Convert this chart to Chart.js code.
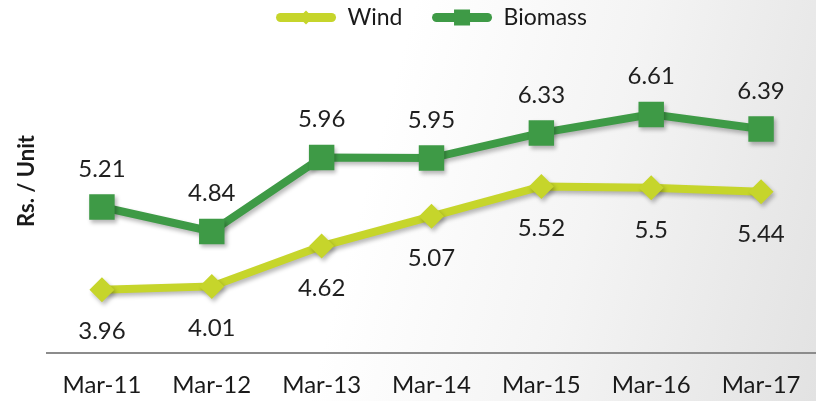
<!DOCTYPE html>
<html>
<head>
<meta charset="utf-8">
<script src="https://cdn.jsdelivr.net/npm/chart.js@4/dist/chart.umd.min.js"></script>
<style>
  html, body { margin: 0; padding: 0; background: #fff; }
  #wrap { width: 816px; height: 401px; position: relative;
          background: linear-gradient(105deg, #ffffff 45%, #f4f4f4 70%, #e2e2e2 100%); }
</style>
</head>
<body>
<div id="wrap"><canvas id="chart"></canvas></div>
<script>
  // values
  const periods = ["Mar-11", "Mar-12", "Mar-13", "Mar-14", "Mar-15", "Mar-16", "Mar-17"];
  const wind = [3.96, 4.01, 4.62, 5.07, 5.52, 5.5, 5.44];
  const biomass = [5.21, 4.84, 5.96, 5.95, 6.33, 6.61, 6.39];
  const yTitle = "Rs. / Unit";

  const windColor = "#c6d52b";
  const bioColor = "#3e9a46";
  const fontFam = "Lato, 'Open Sans', sans-serif";

  // soft drop shadow under lines and markers
  const shadow = {
    id: "shadow",
    beforeDatasetsDraw(chart) {
      const ctx = chart.ctx;
      ctx.save();
      ctx.shadowColor = "rgba(0,0,0,0.28)";
      ctx.shadowBlur = 4;
      ctx.shadowOffsetX = 2;
      ctx.shadowOffsetY = 3;
    },
    afterDatasetsDraw(chart) {
      chart.ctx.restore();
    }
  };

  // numbers above (biomass) / below (wind) each point
  const valueLabels = {
    id: "valueLabels",
    afterDatasetsDraw(chart) {
      const ctx = chart.ctx;
      ctx.save();
      ctx.font = "24px " + fontFam;
      ctx.fillStyle = "#1f1f1f";
      ctx.textAlign = "center";
      ctx.textBaseline = "middle";
      chart.data.datasets.forEach((ds, i) => {
        const meta = chart.getDatasetMeta(i);
        const off = ds.label === "Wind" ? 42 : -38;
        meta.data.forEach((pt, j) => {
          ctx.fillText(String(ds.data[j]), pt.x, pt.y + off);
        });
      });
      ctx.restore();
    }
  };

  // rotated y title, placed a bit above the plot's middle like the original
  const sideTitle = {
    id: "sideTitle",
    afterDraw(chart) {
      const ctx = chart.ctx;
      ctx.save();
      ctx.translate(27, 181);
      ctx.rotate(-Math.PI / 2);
      ctx.font = "bold 22px " + fontFam;
      ctx.fillStyle = "#1a1a1a";
      ctx.textAlign = "center";
      ctx.textBaseline = "middle";
      ctx.fillText(yTitle, 0, 0);
      ctx.restore();
    }
  };

  // put a marker in the middle of each legend line
  const legendMarkers = {
    id: "legendMarkers",
    afterDraw(chart) {
      const lg = chart.legend;
      if (!lg || !lg.legendHitBoxes) return;
      const ctx = chart.ctx;
      lg.legendHitBoxes.forEach((box, i) => {
        const ds = chart.data.datasets[i];
        const cx = box.left + lg.options.labels.boxWidth / 2;
        const cy = box.top + box.height / 2;
        ctx.save();
        ctx.fillStyle = ds.borderColor;
        if (ds.pointStyle === "rectRot") {
          ctx.beginPath();
          ctx.moveTo(cx, cy - 7);
          ctx.lineTo(cx + 7, cy);
          ctx.lineTo(cx, cy + 7);
          ctx.lineTo(cx - 7, cy);
          ctx.closePath();
          ctx.fill();
        } else {
          ctx.fillRect(cx - 8, cy - 8, 16, 16);
        }
        ctx.restore();
      });
    }
  };

  new Chart(document.getElementById("chart"), {
    type: "line",
    data: {
      labels: periods,
      datasets: [
        {
          label: "Wind",
          data: wind,
          borderColor: windColor,
          backgroundColor: windColor,
          borderWidth: 8,
          pointStyle: "rectRot",
          pointRadius: 12.5,
          pointHoverRadius: 12.5,
          pointBorderWidth: 0,
          tension: 0
        },
        {
          label: "Biomass",
          data: biomass,
          borderColor: bioColor,
          backgroundColor: bioColor,
          borderWidth: 8,
          pointStyle: "rect",
          pointRadius: 18,
          pointHoverRadius: 18,
          pointBorderWidth: 0,
          tension: 0
        }
      ]
    },
    options: {
      responsive: true,
      maintainAspectRatio: false,
      animation: false,
      layout: { autoPadding: false, padding: { left: 47, right: 0, top: 0, bottom: 1 } },
      plugins: {
        tooltip: { enabled: false },
        legend: {
          position: "top",
          labels: {
            boxWidth: 60,
            boxHeight: 9,
            padding: 6,
            useBorderRadius: true,
            color: "#1a1a1a",
            font: { size: 23, family: fontFam },
            generateLabels(chart) {
              const items = Chart.defaults.plugins.legend.labels.generateLabels(chart);
              items.forEach((it, i) => {
                it.borderRadius = 4.5;
                it.lineWidth = 0;
                // widen the gap after every entry but the last
                if (i < items.length - 1) it.text = it.text + "    ";
              });
              return items;
            }
          }
        }
      },
      scales: {
        x: {
          offset: true,
          grid: {
            display: true,
            drawOnChartArea: false,
            drawTicks: true,
            tickLength: 18,
            tickColor: "rgba(0,0,0,0)"
          },
          border: { display: true, color: "#8c8c8c", width: 2 },
          ticks: {
            color: "#1a1a1a",
            padding: 0,
            font: { size: 24, family: fontFam }
          }
        },
        y: {
          display: false,
          min: 3,
          max: 7.75
        }
      }
    },
    plugins: [shadow, valueLabels, sideTitle, legendMarkers]
  });
</script>
</body>
</html>
